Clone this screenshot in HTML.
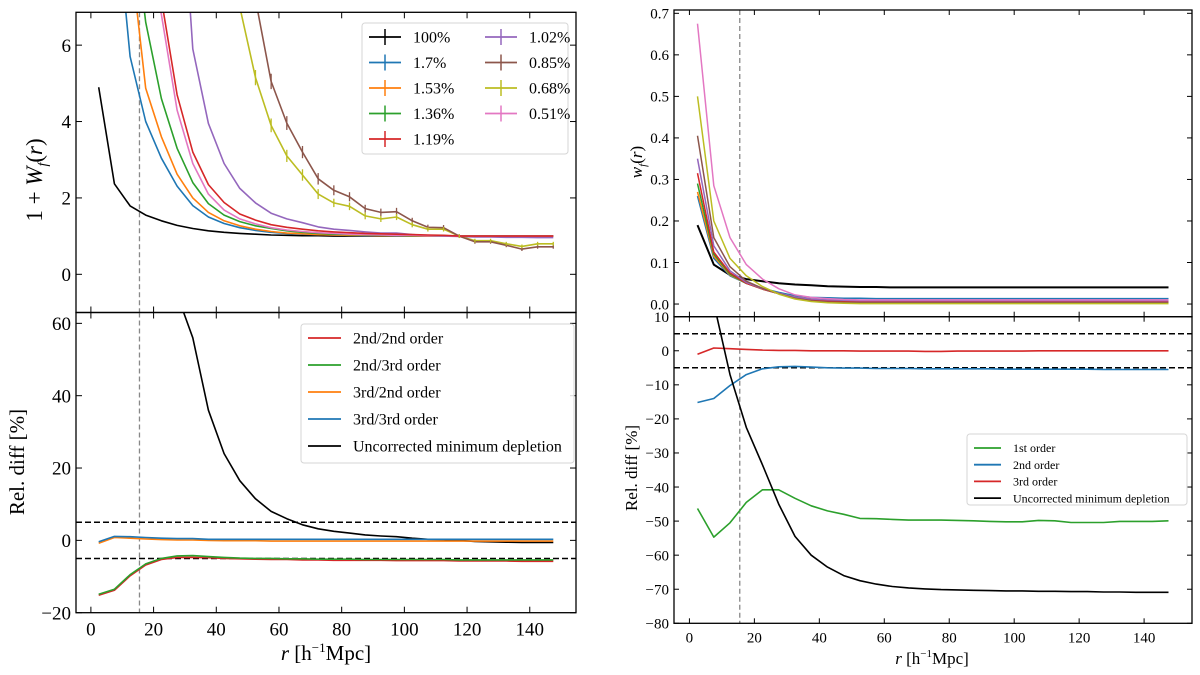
<!DOCTYPE html>
<html><head><meta charset="utf-8"><style>
html,body{margin:0;padding:0;background:#fff;}
svg{display:block;font-family:"Liberation Serif","DejaVu Serif",serif;}
</style></head><body>
<svg id="fig" width="1200" height="675" viewBox="0 0 1200 675" xmlns="http://www.w3.org/2000/svg"></svg>
<script>
const rVals=[2.5,7.5,12.5,17.5,22.5,27.5,32.5,37.5,42.5,47.5,52.5,57.5,62.5,67.5,72.5,77.5,82.5,87.5,92.5,97.5,102.5,107.5,112.5,117.5,122.5,127.5,132.5,137.5,142.5,147.5];
// Top-left: 1+W_f(r)
const wLabels=["100%","1.7%","1.53%","1.36%","1.19%","1.02%","0.85%","0.68%","0.51%"];
const wColors=["#000000","#1f77b4","#ff7f0e","#2ca02c","#d62728","#9467bd","#8c564b","#bcbd22","#e377c2"];
const W100=[4.9,2.37,1.79,1.55,1.4,1.28,1.2,1.14,1.1,1.07,1.05,1.03,1.02,1.01,1.01,1.0,1.0,1.0,1.0,1.0,1.0,1.0,1.0,1.0,1.0,1.0,1.0,1.0,1.0,1.0];
const W170=[16,10,5.7,4.0,3.04,2.31,1.8,1.5,1.33,1.22,1.15,1.1,1.07,1.05,1.04,1.03,1.02,1.01,1.01,1.0,1.0,1.0,1.0,1.0,1.0,1.0,1.0,1.0,1.0,1.0];
const W153=[20,13,8.5,4.87,3.6,2.62,2.0,1.62,1.4,1.27,1.18,1.12,1.08,1.06,1.04,1.03,1.02,1.02,1.01,1.01,1.0,1.0,1.0,1.0,1.0,1.0,1.0,1.0,1.0,1.0];
const W136=[25,16,10,6.6,4.6,3.3,2.4,1.85,1.55,1.38,1.27,1.2,1.14,1.1,1.07,1.05,1.04,1.03,1.02,1.02,1.01,1.01,1.0,1.0,1.0,1.0,1.0,1.0,1.0,1.0];
const W119=[35,22,13,9.5,7.2,4.7,3.2,2.35,1.88,1.58,1.42,1.3,1.23,1.18,1.14,1.11,1.09,1.07,1.06,1.05,1.04,1.03,1.02,1.0,1.0,1.0,1.0,1.0,1.0,1.0];
const W102=[50,32,22,17,14,12,5.9,3.95,2.9,2.25,1.87,1.6,1.45,1.35,1.24,1.18,1.15,1.11,1.08,1.08,1.04,1.01,1.0,0.99,0.98,0.98,0.97,0.97,0.96,0.96];
const W085=[90,60,40,28,20,15,12,10,9,8.2,7.2,5.05,3.96,3.2,2.5,2.2,2.03,1.72,1.62,1.64,1.4,1.23,1.22,1.0,0.85,0.85,0.76,0.66,0.72,0.72];
const W068=[80,55,36,25,18,14,12,10.5,9,7.0,5.15,3.9,3.1,2.6,2.1,1.87,1.78,1.53,1.45,1.5,1.3,1.18,1.18,1.0,0.88,0.88,0.8,0.73,0.8,0.8];
const W051=[32,20,12,9,6.8,4.3,2.9,2.1,1.68,1.45,1.32,1.22,1.16,1.12,1.09,1.07,1.05,1.04,1.03,1.02,1.02,1.01,1.01,1.0,1.0,1.0,1.0,1.0,1.0,1.0];
const W085err=[0,0,0,0,0,0,0,0,0,0,0.25,0.2,0.18,0.16,0.15,0.13,0.12,0.1,0.1,0.1,0.08,0.07,0.07,0.05,0.05,0.05,0.05,0.05,0.05,0.05];
const W068err=[0,0,0,0,0,0,0,0,0,0,0.2,0.18,0.16,0.15,0.13,0.11,0.1,0.09,0.08,0.08,0.07,0.06,0.06,0.05,0.05,0.05,0.05,0.05,0.05,0.05];
// Bottom-left: relative differences
const bl22=[-15.2,-13.8,-9.8,-6.8,-5.3,-4.7,-4.7,-4.8,-5.0,-5.1,-5.2,-5.3,-5.3,-5.4,-5.4,-5.5,-5.5,-5.5,-5.5,-5.6,-5.6,-5.6,-5.6,-5.7,-5.7,-5.7,-5.7,-5.8,-5.8,-5.8];
const bl23=[-14.9,-13.5,-9.5,-6.5,-5.0,-4.3,-4.2,-4.5,-4.7,-4.9,-5.0,-5.0,-5.1,-5.1,-5.2,-5.2,-5.2,-5.3,-5.3,-5.3,-5.3,-5.3,-5.3,-5.4,-5.4,-5.4,-5.4,-5.4,-5.4,-5.4];
const bl32=[-0.8,0.8,0.6,0.4,0.2,0.1,0.1,0.0,-0.1,-0.1,-0.1,-0.2,-0.2,-0.2,-0.2,-0.2,-0.2,-0.2,-0.2,-0.2,-0.2,-0.2,-0.2,-0.2,-0.2,-0.2,-0.2,-0.2,-0.2,-0.2];
const bl33=[-0.4,1.1,1.0,0.8,0.6,0.5,0.5,0.3,0.3,0.3,0.3,0.3,0.3,0.3,0.3,0.3,0.3,0.3,0.3,0.3,0.3,0.3,0.3,0.3,0.3,0.3,0.3,0.3,0.3,0.3];
const blUnc=[400,250,160,110,85,68,56,36,24,16.5,11.5,8,6,4.3,3.2,2.5,2,1.5,1.2,1.0,0.6,0.3,0.2,0.0,-0.3,-0.4,-0.5,-0.6,-0.6,-0.6];
const blLabels=["2nd/2nd order","2nd/3rd order","3rd/2nd order","3rd/3rd order","Uncorrected minimum depletion"];
const blColors=["#d62728","#2ca02c","#ff7f0e","#1f77b4","#000000"];
// Top-right: w_f(r)
const w100=[0.19,0.095,0.07,0.06,0.055,0.05,0.047,0.045,0.043,0.042,0.041,0.041,0.040,0.040,0.040,0.040,0.040,0.040,0.040,0.040,0.040,0.040,0.040,0.040,0.040,0.040,0.040,0.040,0.040,0.040];
const w170=[0.26,0.11,0.068,0.05,0.038,0.028,0.02,0.016,0.015,0.014,0.014,0.013,0.013,0.013,0.013,0.013,0.013,0.013,0.013,0.013,0.013,0.013,0.013,0.013,0.013,0.013,0.013,0.013,0.013,0.013];
const w153=[0.27,0.115,0.07,0.05,0.037,0.026,0.017,0.012,0.009,0.008,0.007,0.006,0.006,0.006,0.006,0.006,0.006,0.006,0.006,0.006,0.006,0.006,0.006,0.006,0.006,0.006,0.006,0.006,0.006,0.006];
const w136=[0.29,0.12,0.072,0.05,0.036,0.025,0.016,0.011,0.008,0.007,0.006,0.005,0.005,0.005,0.005,0.005,0.005,0.005,0.005,0.005,0.005,0.005,0.005,0.005,0.005,0.005,0.005,0.005,0.005,0.005];
const w119=[0.315,0.125,0.075,0.05,0.036,0.025,0.015,0.01,0.007,0.006,0.005,0.005,0.005,0.005,0.005,0.005,0.005,0.005,0.005,0.005,0.005,0.005,0.005,0.005,0.005,0.005,0.005,0.005,0.005,0.005];
const w102=[0.35,0.14,0.08,0.052,0.037,0.026,0.017,0.012,0.01,0.009,0.008,0.008,0.008,0.008,0.008,0.008,0.008,0.008,0.008,0.008,0.008,0.008,0.008,0.008,0.008,0.008,0.008,0.008,0.008,0.008];
const w085=[0.405,0.16,0.09,0.055,0.038,0.025,0.014,0.008,0.005,0.004,0.003,0.003,0.003,0.003,0.003,0.003,0.003,0.003,0.003,0.003,0.003,0.003,0.003,0.003,0.003,0.003,0.003,0.003,0.003,0.003];
const w068=[0.5,0.2,0.11,0.068,0.042,0.024,0.012,0.006,0.003,0.002,0.001,0.001,0.001,0.001,0.001,0.001,0.001,0.001,0.001,0.001,0.001,0.001,0.001,0.001,0.001,0.001,0.001,0.001,0.001,0.001];
const w051=[0.675,0.285,0.16,0.095,0.06,0.037,0.022,0.016,0.013,0.011,0.01,0.01,0.01,0.01,0.01,0.01,0.01,0.01,0.01,0.01,0.01,0.01,0.01,0.01,0.01,0.01,0.01,0.01,0.01,0.01];
// Bottom-right
const br1=[-46.3,-54.7,-50.5,-44.5,-40.8,-40.8,-43.3,-45.5,-47,-48,-49.2,-49.3,-49.5,-49.7,-49.7,-49.7,-49.8,-49.9,-50.1,-50.2,-50.2,-49.8,-49.9,-50.4,-50.4,-50.4,-50.1,-50.1,-50.1,-49.9];
const br2=[-15.2,-14,-10.2,-7,-5.3,-4.7,-4.6,-4.8,-5,-5.1,-5.1,-5.2,-5.2,-5.2,-5.3,-5.3,-5.3,-5.3,-5.3,-5.4,-5.4,-5.4,-5.4,-5.4,-5.4,-5.5,-5.5,-5.5,-5.5,-5.5];
const br3=[-1,0.8,0.6,0.4,0.2,0.1,0.1,0,0,0,-0.1,-0.1,-0.1,-0.1,-0.2,-0.2,-0.1,-0.1,-0.1,-0.1,-0.1,0,0,0,0,0,0,0,0,0];
const brUnc=[60,14,-7,-22.5,-33.5,-45,-54.5,-60,-63.5,-66,-67.5,-68.5,-69.2,-69.6,-69.9,-70.1,-70.2,-70.3,-70.4,-70.5,-70.5,-70.6,-70.6,-70.7,-70.7,-70.8,-70.8,-70.9,-70.9,-70.9];
const brLabels=["1st order","2nd order","3rd order","Uncorrected minimum depletion"];
const brColors=["#2ca02c","#1f77b4","#d62728","#000000"];
const xTicks=[0,20,40,60,80,100,120,140];
const tlTicks=[0,2,4,6];
const blTicks=[-20,0,20,40,60];
const trTicks=[0.0,0.1,0.2,0.3,0.4,0.5,0.6,0.7];
const brTicks=[-80,-70,-60,-50,-40,-30,-20,-10,0,10];
const cutR=15.5;

const NS="http://www.w3.org/2000/svg";
const svg=document.getElementById('fig');
function mk(tag,attrs,parent,text){const e=document.createElementNS(NS,tag);for(const k in attrs)e.setAttribute(k,attrs[k]);if(text!==undefined)e.textContent=text;(parent||svg).appendChild(e);return e;}
function lin(d0,d1,p0,p1){return v=>p0+(v-d0)*(p1-p0)/(d1-d0);}

function panel(id,L,R,T,B,ymin,ymax,clipId){
  const g=mk('g',{});
  
  
  const cp=mk('clipPath',{id:clipId},g);mk('rect',{x:L,y:T,width:R-L,height:B-T},cp);
  return {g,x:lin(-4.75,154.75,L,R),y:lin(ymin,ymax,B,T),L,R,T,B,clip:'url(#'+clipId+')'};
}
function frame(p,yt,fmt,fs,showX,xfs,tickLen){
  const ax=mk('g',{},p.g);
  
  
  for(const t of yt){const yy=p.y(t);
    mk('line',{x1:p.L,x2:p.L+tickLen,y1:yy,y2:yy,stroke:'#000','stroke-width':1},ax);
    mk('line',{x1:p.R,x2:p.R-tickLen,y1:yy,y2:yy,stroke:'#000','stroke-width':1},ax);
    const tx=mk('text',{x:p.L-5,y:yy+fs*0.35,'font-size':fs,'text-anchor':'end'},ax,fmt(t));
    
    
  }
  for(const t of xTicks){const xx=p.x(t);
    mk('line',{x1:xx,x2:xx,y1:p.B,y2:p.B-tickLen,stroke:'#000','stroke-width':1},ax);
    mk('line',{x1:xx,x2:xx,y1:p.T,y2:p.T+tickLen,stroke:'#000','stroke-width':1},ax);
    if(showX){const tx=mk('text',{x:xx,y:p.B+xfs+4,'font-size':xfs,'text-anchor':'middle'},ax,String(t));
      
      }
  }
  mk('rect',{x:p.L,y:p.T,width:p.R-p.L,height:p.B-p.T,fill:'none',stroke:'#000','stroke-width':1.3},ax);
}
function series(p,vals,color,name,w){
  const pts=rVals.map((r,i)=>p.x(r).toFixed(1)+','+p.y(vals[i]).toFixed(1)).join(' ');
  const l=mk('polyline',{points:pts,fill:'none',stroke:color,'stroke-width':w||1.6,'clip-path':p.clip,'stroke-linejoin':'round'},p.g);
  
  
}
function errbars(p,vals,errs,color,name){
  const g=mk('g',{'clip-path':p.clip},p.g);
  
  
  rVals.forEach((r,i)=>{if(errs[i]>0)mk('line',{x1:p.x(r),x2:p.x(r),y1:p.y(vals[i]-errs[i]),y2:p.y(vals[i]+errs[i]),stroke:color,'stroke-width':1.3},g);});
}
function hdash(p,v,name){const l=mk('line',{x1:p.L,x2:p.R,y1:p.y(v),y2:p.y(v),stroke:'#000','stroke-width':1.5,'stroke-dasharray':'6,3'},p.g);
  
  }
function vdash(p,name){const l=mk('line',{x1:p.x(cutR),x2:p.x(cutR),y1:p.T,y2:p.B,stroke:'#888','stroke-width':1.3,'stroke-dasharray':'5,3'},p.g);
  
  }
function legend(p,name,x,y,w,h,items,fs,lineLen,rowH,cols,colW,cross){
  const g=mk('g',{},p.g);
  
  
  mk('rect',{x,y,width:w,height:h,rx:3,fill:'#fff','fill-opacity':0.85,stroke:'#d6d6d6','stroke-width':1},g);
  const per=Math.ceil(items.length/cols);
  items.forEach((it,i)=>{const c=Math.floor(i/per),r=i%per;
    const lx=x+7+c*colW,ly=y+14+r*rowH;
    const e=mk('g',{},g);
    
    
    mk('line',{x1:lx,x2:lx+lineLen,y1:ly,y2:ly,stroke:it[1],'stroke-width':1.8},e);
    if(cross)mk('line',{x1:lx+lineLen/2,x2:lx+lineLen/2,y1:ly-8,y2:ly+8,stroke:it[1],'stroke-width':1.5},e);
    mk('text',{x:lx+lineLen+12,y:ly+fs*0.35,'font-size':fs},e,it[0]);
  });
}
function label(txtNodes,x,y,fs,rot,name){
  const t=mk('text',{x,y,'font-size':fs,'text-anchor':'middle',transform:rot?`rotate(-90 ${x} ${y})`:''});
  
  
  txtNodes.forEach(n=>{const s=mk('tspan',n[1]||{},t,n[0]);});
  return t;
}

// ---- Top-left
const tl=panel('panel-top-left',76,576,12.3,312.5,-1,6.86,'ctl');
vdash(tl,'cut-line-top-left');
const tlSeries=[W100,W170,W153,W136,W119,W102,W085,W068,W051];
const order=[0,1,2,3,5,7,6,8,4];
order.forEach(i=>series(tl,tlSeries[i],wColors[i],'series-'+wLabels[i].replace('%','pct').replace('.','p')));
errbars(tl,W085,W085err,wColors[6],'errorbars-0p85pct');
errbars(tl,W068,W068err,wColors[7],'errorbars-0p68pct');
frame(tl,tlTicks,v=>String(v),19,false,19,6);
legend(tl,'legend-top-left',362,23,206,131,wLabels.map((l,i)=>[l,wColors[i]]),16,32,25.5,2,116,true);
// ---- Bottom-left
const bl=panel('panel-bottom-left',76,576,312.5,612.7,-20,63,'cbl');
vdash(bl,'cut-line-bottom-left');
hdash(bl,5,'threshold-plus5-left');hdash(bl,-5,'threshold-minus5-left');
series(bl,blUnc,'#000','series-uncorrected-left');
series(bl,bl22,blColors[0],'series-2nd-2nd');
series(bl,bl23,blColors[1],'series-2nd-3rd');
series(bl,bl32,blColors[2],'series-3rd-2nd');
series(bl,bl33,blColors[3],'series-3rd-3rd');
frame(bl,blTicks,v=>v<0?'\u2212'+(-v):String(v),19,true,19,6);
legend(bl,'legend-bottom-left',301,324,273,139,blLabels.map((l,i)=>[l,blColors[i]]),16,33,27,1,0,false);
// ---- Top-right
const tr=panel('panel-top-right',674,1192,10,316.7,-0.0305,0.708,'ctr');
vdash(tr,'cut-line-top-right');
const trSeries=[w100,w170,w153,w136,w119,w102,w085,w068,w051];
trSeries.forEach((s,i)=>series(tr,s,wColors[i],'wf-'+wLabels[i].replace('%','pct').replace('.','p'),i===0?2:1.5));
frame(tr,trTicks,v=>v.toFixed(1),15,false,15,5);
// ---- Bottom-right
const br=panel('panel-bottom-right',674,1192,316.7,623.3,-80,10,'cbr');
vdash(br,'cut-line-bottom-right');
hdash(br,5,'threshold-plus5-right');hdash(br,-5,'threshold-minus5-right');
series(br,br1,brColors[0],'series-1st-order');
series(br,br2,brColors[1],'series-2nd-order');
series(br,br3,brColors[2],'series-3rd-order');
series(br,brUnc,'#000','series-uncorrected-right');
frame(br,brTicks,v=>v<0?'\u2212'+(-v):String(v),15,true,15,5);
legend(br,'legend-bottom-right',967,434,220,71,brLabels.map((l,i)=>[l,brColors[i]]),12,27,16.7,1,0,false);

// Axis labels
label([['1 + '],['W',{'font-style':'italic'}],['f',{'font-style':'italic','font-size':14,dy:5}],['(',{dy:-5}],['r',{'font-style':'italic'}],[')']],42,180,23,true,'y-axis-title-top-left');
label([['Rel. diff [%]']],24,462,21,true,'y-axis-title-bottom-left');
label([['r',{'font-style':'italic'}],[' [h',{}],['\u22121',{'font-size':13,dy:-8}],['Mpc]',{dy:8}]],326,660,21,false,'x-axis-title-left');
label([['w',{'font-style':'italic'}],['f',{'font-style':'italic','font-size':11,dy:4}],['(',{dy:-4}],['r',{'font-style':'italic'}],[')']],642,162,17,true,'y-axis-title-top-right');
label([['Rel. diff [%]']],637,468,17,true,'y-axis-title-bottom-right');
label([['r',{'font-style':'italic'}],[' [h',{}],['\u22121',{'font-size':11,dy:-7}],['Mpc]',{dy:7}]],932,664,17,false,'x-axis-title-right');
</script>
</body></html>
